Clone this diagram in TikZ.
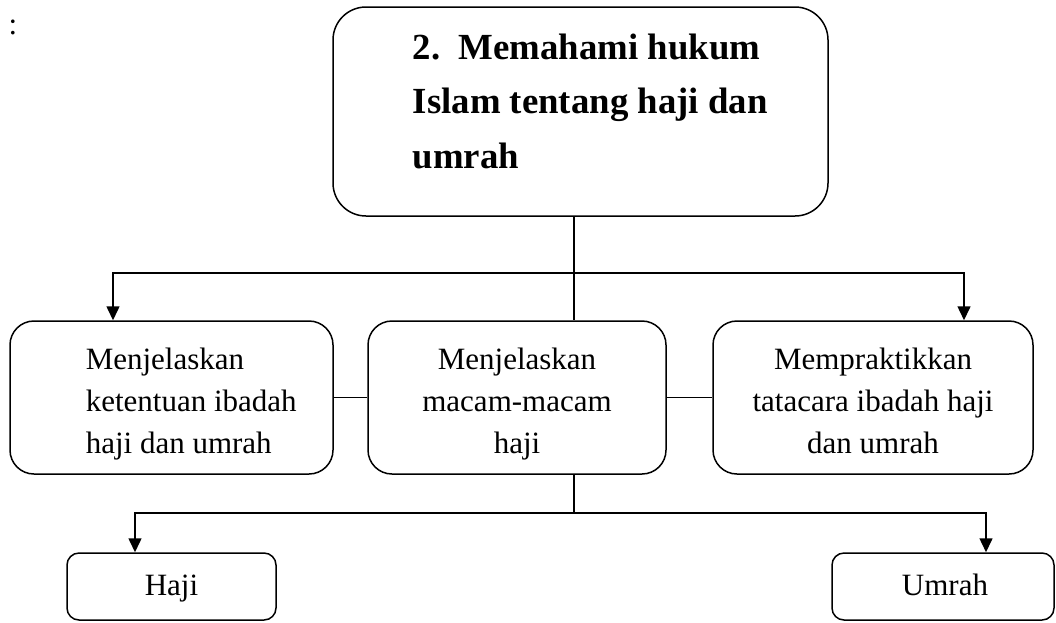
\documentclass[tikz,border=0pt]{standalone}
\usepackage{fontspec}
\setmainfont{Liberation Serif}
\usetikzlibrary{arrows.meta}
\begin{document}
\begin{tikzpicture}[x=1pt,y=-1pt,
  line width=1.5pt,
  bigbox/.style={draw, rounded corners=33pt, inner sep=0pt},
  midbox/.style={draw, rounded corners=24pt, inner sep=0pt},
  smallbox/.style={draw, rounded corners=12pt, inner sep=0pt},
  bodytext/.style={inner sep=0pt, font=\fontsize{31}{42}\selectfont},
  titletext/.style={inner sep=0pt, align=left, font=\fontsize{36.8}{54.5}\selectfont\bfseries},
  arr/.style={-{Triangle[length=14pt,width=13pt]}}]
\useasboundingbox (0,0) rectangle (1056,622);

\node[bodytext, anchor=base west] (colon) at (8,34) {:};

% boxes
\node[bigbox, minimum width=495pt, minimum height=209pt] (top) at (580.5,111.5) {};
\node[midbox, minimum width=323pt, minimum height=153pt] (lbox) at (171.5,397.5) {};
\node[midbox, minimum width=298pt, minimum height=153pt] (mbox) at (517,397.5) {};
\node[midbox, minimum width=320pt, minimum height=153pt] (rbox) at (873,397.5) {};
\node[smallbox, minimum width=209pt, minimum height=67pt] (haji) at (171.5,586.5) {};
\node[smallbox, minimum width=222pt, minimum height=67pt] (umrah) at (943,586.5) {};

% texts
\node[titletext, anchor=north west] (toptext) at (412,33)
  {\makebox[46pt][l]{2.}Memahami hukum\\Islam tentang haji dan\\umrah};
\node[bodytext, align=left, anchor=north west] (ltext) at (85,347)
  {Menjelaskan\\ketentuan ibadah\\haji dan umrah};
\node[bodytext, align=center, anchor=north] (mtext) at (517,347)
  {Menjelaskan\\macam-macam\\haji};
\node[bodytext, align=center, anchor=north] (rtext) at (873,347)
  {Mempraktikkan\\tatacara ibadah haji\\dan umrah};
\node[bodytext, anchor=base] (hajitext) at (171.5,595) {Haji};
\node[bodytext, anchor=base] (umrahtext) at (945,595) {Umrah};

% connectors
\coordinate (j1) at (574,273);
\coordinate (la) at (113,273);
\coordinate (ra) at (964,273);
\draw (top.south -| j1) -- (mbox.north -| j1);
\draw[arr] (j1) -- (la) -- (la |- lbox.north);
\draw[arr] (j1) -- (ra) -- (ra |- rbox.north);
\draw (lbox.east) -- (mbox.west);
\draw (mbox.east) -- (rbox.west);

\coordinate (j2) at (574,513);
\coordinate (ha) at (135,513);
\coordinate (ua) at (986,513);
\draw (mbox.south -| j2) -- (j2);
\draw[arr] (j2) -- (ha) -- (ha |- haji.north);
\draw[arr] (j2) -- (ua) -- (ua |- umrah.north);
\end{tikzpicture}
\end{document}
